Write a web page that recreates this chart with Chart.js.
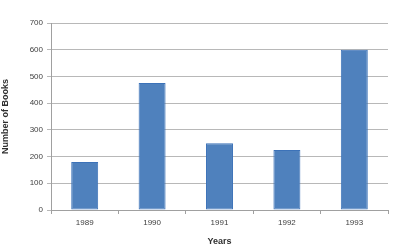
<!DOCTYPE html>
<html><head><meta charset="utf-8">
<script src="https://cdn.jsdelivr.net/npm/chart.js@4/dist/chart.umd.min.js"></script>
<style>html,body{margin:0;padding:0;background:#fff}#wrap{width:400px;height:247px}</style>
</head><body><div id="wrap"><canvas id="c" width="400" height="247"></canvas></div>
<script>
const categories = ["1989", "1990", "1991", "1992", "1993"];
const books = [180, 475, 250, 225, 600];
const yTicks = [0, 100, 200, 300, 400, 500, 600, 700];

const font = {family: "'Liberation Sans', Arial, sans-serif", size: 8};
new Chart(document.getElementById('c'), {
  type: 'bar',
  data: {labels: categories, datasets: [{data: books, backgroundColor: '#4f81bd', borderColor: '#3c72b8', borderWidth: 1, borderSkipped: false, categoryPercentage: 0.8, barPercentage: 0.5}]},
  options: {
    responsive: false, animation: false,
    layout: {padding: {left: 0, right: 12, top: 23, bottom: 0}},
    plugins: {legend: {display: false}, tooltip: {enabled: false}},
    scales: {
      x: {
        grid: {drawOnChartArea: false, drawTicks: true, tickLength: 4, color: '#a0a0a0', offset: true},
        border: {color: '#a0a0a0'},
        ticks: {font: font, color: '#404040', padding: 4},
        title: {display: true, text: 'Years', font: {family: font.family, size: 9, weight: 'bold'}, color: '#303030', padding: {top: 8, bottom: 0}},
        afterFit: s => { s.height = 37; }
      },
      y: {
        min: 0, max: 700,
        afterBuildTicks: s => { s.ticks = yTicks.map(v => ({value: v})); },
        grid: {color: '#b8b8b8', tickLength: 4},
        border: {color: '#a0a0a0'},
        ticks: {font: font, color: '#404040', padding: 4},
        title: {display: true, text: 'Number of Books', font: {family: font.family, size: 9, weight: 'bold'}, color: '#303030', padding: {top: 0, bottom: 6}},
        afterFit: s => { s.width = 51; }
      }
    }
  }
});
</script></body></html>
